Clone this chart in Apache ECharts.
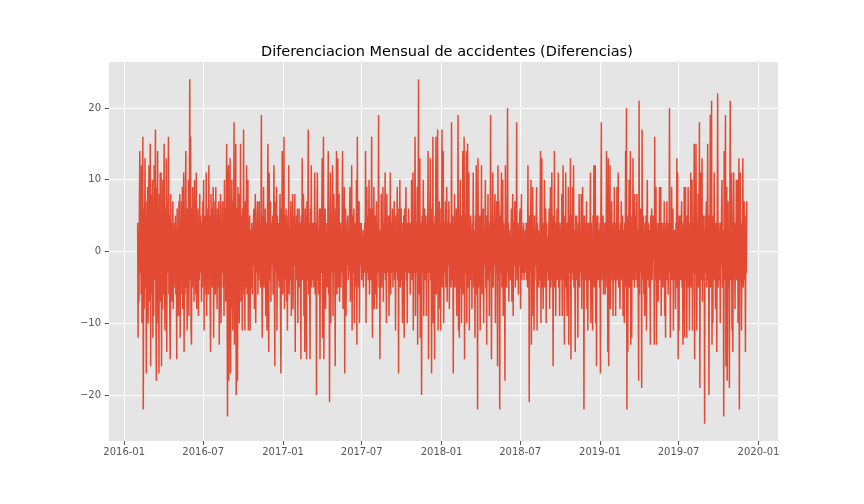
<!DOCTYPE html>
<html>
<head>
<meta charset="utf-8">
<script src="https://cdn.jsdelivr.net/npm/echarts@6/dist/echarts.min.js"></script>
<style>
  html, body { margin: 0; padding: 0; background: #fff; }
  #chart { width: 864px; height: 504px; }
</style>
</head>
<body>
<div id="chart"></div>
<script>
// daily differences (first day 2016-02-01)
const startDate = "2016-02-01";
const diffPart1 = [
  4,-12,3,-7,6,14,-3,8,-6,12, -10,5,16,-22,6,-8,2,13,-5,7,
  -17,4,-6,9,-10,3,12,-7,5,15, -16,8,-6,4,10,-12,6,-9,12,-4,
  7,17,-8,-18,9,-5,14,-10,6,-17, 8,-4,11,-7,11,-16,3,-8,10,-6,
  2,15,-5,-11,6,-7,13,-14,4,-3, 8,16,-6,5,-9,-15,8,-2,4,-7,
  3,7,-8,2,-5,4,-3,5,-6,3, -15,6,-4,2,-9,7,-3,8,-12,4,
  -6,7,-2,9,-8,3,11,-14,5,-6, 8,14,-5,2,-11,6,-4,10,-9,4,
  24,-4,16,-11,-13,6,-3,9,-5,3, -7,10,-4,5,-6,11,-8,4,-2,6,
  -9,3,-4,8,-3,5,1,-7,4,-5, 7,-3,10,-11,5,-6,3,-2,11,-9,
  6,-4,4,-6,12,-3,5,-7,-14,8, -4,6,-5,3,9,-12,5,-3,7,-6,
  9,-4,2,-8,6,-5,3,7,-13
];
const diffPart2 = [
  5,-6,8,-10,4,-3,6,7,-5,3, -9,10,-4,6,-7,2,15,-5,-23,9,
  12,-18,6,-4,13,-17,5,-8,10,-3, -11,7,-4,18,-13,5,-6,15,-20,6,
  3,-18,9,-5,8,-10,4,-3,15,-7, 5,2,-11,6,-4,17,-6,3,-11,7,
  -5,4,12,-6,3,10,-11,4,-2,5, -11,3,-5,2,4,-6,3,-2,5,6,
  -8,2,8,-10,4,-3,5,7,-6,2, -4,7,-3,4,-5,3,19,-4,-12,5,
  -3,9,-5,3,-2,6,-9,4,-3,-11, 5,15,-6,-14,11,3,-4,7,-7,4,
  -2,3,5,-6,2,12,-4,-16,7,-3, 4,9,-11,5,-4,2,4,-5,3,8,
  -8,-17,6,-3,14,-6,4,-2,16,-8, 5,-4,3,6,-7,4,-11,5,-3,12,
  -6,3,-4,2,7,-9,4,-3,8,-8, 5,-2,3,8,-14,4,-3,5,-4,6,
  -10,3,-2,6,-5,4,2,-15,5,-3, 13,-4,3,8,-9,4,-14,6,-3,5,
  -15,7,-4,3,17,-6,4,-3,-15,6, -2,12,-5,3,-4,4,2,-5,3,11,
  -6,4,-3,-20,5,11,-4,3,-6,2, 6,-15,4,6,-3,5,13,-12,4,16,
  -15,5
];
const diffPart3 = [
  -4,6,-8,2,-3,4,-5,3,14,-6, 4,-21,5,11,-10,4,-3,6,12,-9,
  3,8,-3,5,-16,6,-4,14,-6,3, 13,-5,2,8,-7,3,4,-5,2,-3,
  5,14,-8,4,-3,9,-17,5,6,-9, 3,-2,4,5,-4,2,-3,4,9,-7,
  3,-4,12,-11,5,-3,2,6,-10,4, -2,3,-5,10,-13,16,-4,3,-5,7,
  -10,4,-2,3,4,-4,2,-3,3,-5, 2,-2,4,-3,14,-10,4,9,-3,5,
  -4,2,10,-6,3,6,-4,2,16,-5, -12,6,-3,9,-8,3,5,-6,2,7,
  -8,4,-3,2,19,-5,3,-15,1,-4, 8,-5,3,-2,9,-7,4,-3,2,11,
  -4,3,-10,8,-3,4,-2,5,-9,3, -4,11,-6,4,-3,2,6,-5,3,-2,
  7,-4,3,-11,5,-3,2,9,-4,3, -17,6,-2,10,-5,3,6,-4,2,-10,
  4,-3,5,-12,6,-3,2,9,-4,3, -10,4,-2,6,-3,2,4,-6,3,-2,
  10,-4,3,11,-11,4,-3,5,16,-9, 4,-3,2,9,-13,5,24,-6,3,13,
  -12,4,2,-20,5,-3,4,10,-9,3, 6,-4,2,5,-9,4,-3,2,14,-15,4
];
const diffPart4 = [
  -3,5,13,-4,3,-17,6,-2,16,-10, 4,3,-15,5,-3,16,-6,4,-4,17,
  -11,5,-3,7,-8,4,-11,6,-3,17, -5,3,14,-10,4,-3,2,7,-5,3,
  9,-7,4,-2,3,7,-8,4,-3,2, -5,18,-4,3,5,-17,4,-3,8,-5,
  3,-2,6,-9,4,-3,19,-11,5,-12, 4,10,-5,3,-10,5,-3,14,-6,4,
  16,-15,5,-3,4,14,-10,3,15,-5, 4,11,-11,3,-2,5,-4,3,-8,4,
  -2,11,-5,3,2,-12,5,-3,12,-6, 4,-22,13,-5,3,-3,5,-11,4,-2,
  12,-6,3,-4,6,-10,3,-2,4,10, -5,3,-13,5,-2,8,-4,3,-9,4,
  -3,19,3,-15,5,-3,11,-5,3,-2, 4,8,-10,4,-3,7,2,-16,12,-4,
  7,3,-22,5,-3,4,11,-5,3,10, -9,4,-3,2,-18,12,-4,3,-5,4,
  20,-3,4,-7,3,-2,2,-4,3,6, -7,3,8,-9,4,-2,3,7,-5,3,
  -2,18,-4,2,4,-6,3,-2,5,6, -8,3,8,-4,2,-3,3,4,-4,2,
  -3,3,-2,4,-4,3,-5,12,-4,3, -21,5,-3,4,10,-13,4,-3,9,-9,
  3,-11,5
];
const diffPart5 = [
  -4,3,-2,4,9,-11,4,-3,3,-5, 2,-4,5,14,-10,4,13,-5,3,-8,
  4,-2,10,-5,3,6,-10,4,-3,2, 2,-4,3,6,-8,4,9,-5,3,11,
  -4,2,-16,5,-3,14,-5,3,-9,4, -2,6,-4,3,11,-5,4,-9,3,-2,
  4,-4,8,-9,3,12,-4,3,-13,5, -2,11,-5,3,-9,4,-3,9,-13,5,
  -3,4,13,-15,5,-3,2,9,-4,12, -5,3,-2,-14,5,-3,5,-4,3,-12,
  4,-2,8,-5,3,-3,2,8,-8,3, 9,-4,3,-22,5,-3,4,-4,2,7,
  -8,3,-11,4,-2,4,-4,3,11,-10, 4,-3,2,-11,5,-3,12,-5,3,12,
  -10,4,-16,5,-3,5,-4,2,3,-5, 4,-17,6,18,-4,3,-2,5,-6,3,
  -2,4,-6,3,-2,14,-5,4,-14,13, -16,5,-3,12,-8,4,-3,7,-4,3,
  -9,4,-2,9,-4,3,-9,4,-3,9, -4,3,11,-5,3,-2,-8,4,-3,7,
  -4,3,5,-9,3,-2,-10,4,-3,14, -5,20,-22,5,-14,4,-3,10,-5,3,
  14,-13,4,-12,5,-3,13,-4,3,-5, 8,-3,5,-4,3,8,-5,3,-2,-18,
  21,-6
];
const diffPart6 = [
  4,-3,6,3,-19,17,-4,3,5,-6, 3,-9,4,-2,5,-11,4,10,-4,3,
  4,-5,3,-2,-13,5,-3,6,-4,2, 5,-1,3,-13,16,-4,3,9,-13,4,
  -2,3,-7,4,-3,9,-4,3,9,-9, 4,-2,3,-5,4,-3,7,-9,3,-12,
  4,-2,7,-4,3,-6,4,-3,20,3, -12,4,-3,9,-4,3,6,-11,3,1,
  -4,3,-8,4,-2,13,-5,11,-15,4, -11,5,-3,5,-4,3,7,-5,3,-13,
  4,-2,9,-12,4,9,-4,3,-12,5, -3,9,-5,3,-11,4,-2,11,-5,3,
  10,-11,4,-3,3,15,-15,4,-3,15, 3,-11,4,-3,8,-5,3,18,-19,4,
  11,-4,3,13,-7,3,5,-4,3,-24, 5,-3,4,7,-5,3,15,-4,3,-20,
  5,-3,19,-5,4,21,-13,4,-10,5, -3,11,-4,3,-8,4,2,-14,5,22,
  -5,3,4,-4,3,-10,4,-2,6,10, -5,3,2,-23,14,-4,3,19,-16,5,
  9,-18,4,7,-5,3,-19,5,21,-4, 3,11,-11,4,-14,5,11,-4,3,-8,
  4,-2,10,-4,3,10,-10,4,13,-22, 5,11,-4,3,-11,4,-2,13,-5,3,
  7,-4,3,-14,5,-3,7
];
const xTickLabels = ["2016-01","2016-07","2017-01","2017-07","2018-01","2018-07","2019-01","2019-07","2020-01"];
const yTicks = [-20, -10, 0, 10, 20];

const DAY = 86400000;
const allDiffs = [].concat(diffPart1, diffPart2, diffPart3, diffPart4, diffPart5, diffPart6);
const t0 = Date.parse(startDate + "T00:00:00Z");
const seriesData = allDiffs.map((v, i) => [t0 + i * DAY, v]);
const xTickValues = xTickLabels.map((s) => Date.parse(s + "-01T00:00:00Z"));

const pad = (n) => (n < 10 ? "0" + n : "" + n);
const fmtDate = (ms) => {
  const d = new Date(ms);
  return d.getUTCFullYear() + "-" + pad(d.getUTCMonth() + 1);
};

const chart = echarts.init(document.getElementById("chart"), null, { renderer: "canvas" });
const tickFont = { fontFamily: "DejaVu Sans", fontSize: 10, color: "#555555" };

const option = {
  animation: false,
  backgroundColor: "#ffffff",
  title: {
    // centred over the plot area, not the page
    text: "Diferenciacion Mensual de accidentes (Diferencias)",
    left: 256,
    top: 40,
    textStyle: { fontFamily: "DejaVu Sans", fontSize: 14.5, fontWeight: "normal", color: "#000000" },
  },
  grid: {
    left: 109,
    right: 86,
    top: 62,
    bottom: 63,
    show: true,
    backgroundColor: "#E5E5E5",
    borderWidth: 0,
  },
  xAxis: {
    type: "value",
    min: Date.parse("2015-11-27T00:00:00Z"),
    max: Date.parse("2020-02-15T00:00:00Z"),
    axisLine: { show: false, onZero: false },
    axisTick: { show: true, length: 4, customValues: xTickValues, lineStyle: { color: "#555555" } },
    axisLabel: Object.assign({ margin: 6, customValues: xTickValues, formatter: fmtDate }, tickFont),
    splitLine: { show: true, lineStyle: { color: "#ffffff", width: 1 } },
  },
  yAxis: {
    type: "value",
    min: -26.4,
    max: 26.4,
    axisLine: { show: false, onZero: false },
    axisTick: { show: true, length: 4, customValues: yTicks, lineStyle: { color: "#555555" } },
    axisLabel: Object.assign({
      margin: 8,
      customValues: yTicks,
      formatter: (v) => (v < 0 ? "\u2212" + Math.abs(v) : "" + v),
    }, tickFont),
    splitLine: { show: true, lineStyle: { color: "#ffffff", width: 1 } },
  },
  series: [
    {
      type: "line",
      data: seriesData,
      showSymbol: false,
      symbol: "none",
      lineStyle: { color: "#E24A33", width: 1.5 },
      itemStyle: { color: "#E24A33" },
      silent: true,
    },
  ],
};

chart.setOption(option);
</script>
</body>
</html>
